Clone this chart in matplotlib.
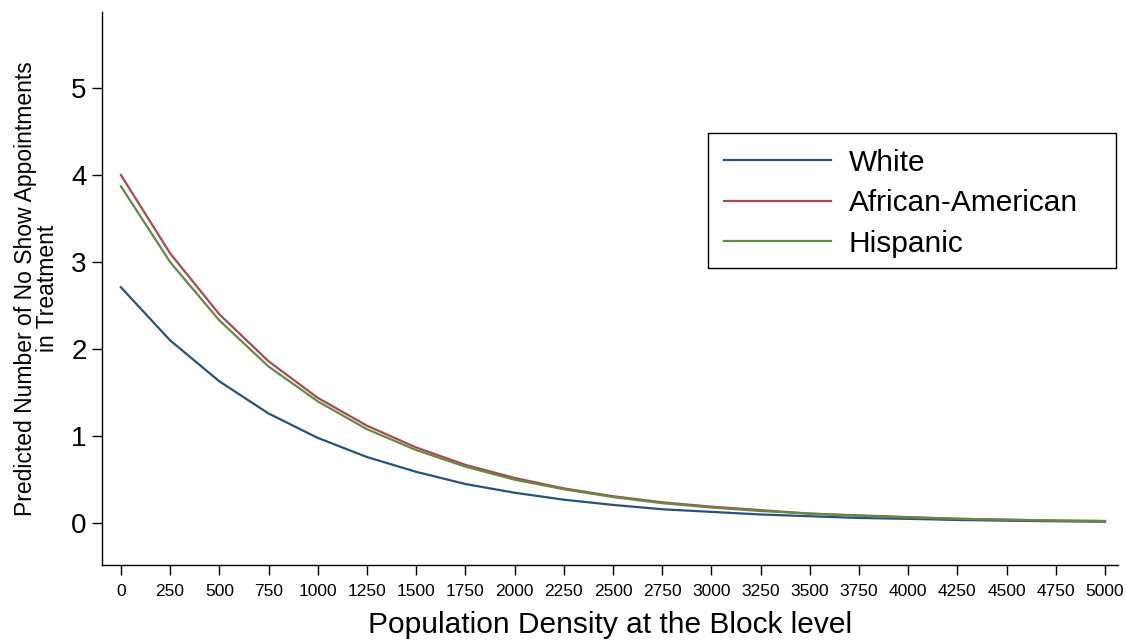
import matplotlib
matplotlib.use("Agg")
import matplotlib.pyplot as plt
from matplotlib.patches import Rectangle

plt.rcParams["font.family"] = ["Liberation Sans", "DejaVu Sans"]

# predicted no-show counts at each density step
density = [0, 250, 500, 750, 1000, 1250, 1500, 1750, 2000, 2250, 2500,
           2750, 3000, 3250, 3500, 3750, 4000, 4250, 4500, 4750, 5000]
white = [2.71, 2.10, 1.63, 1.26, 0.98, 0.76, 0.59, 0.45, 0.35, 0.27, 0.21,
         0.16, 0.13, 0.10, 0.08, 0.06, 0.05, 0.037, 0.029, 0.022, 0.017]
african_american = [4.00, 3.10, 2.40, 1.86, 1.44, 1.12, 0.87, 0.67, 0.52, 0.40, 0.31,
                    0.24, 0.19, 0.15, 0.11, 0.09, 0.07, 0.05, 0.04, 0.03, 0.025]
hispanic = [3.87, 3.00, 2.33, 1.80, 1.40, 1.08, 0.84, 0.65, 0.50, 0.39, 0.30,
            0.23, 0.18, 0.14, 0.11, 0.085, 0.066, 0.051, 0.04, 0.03, 0.024]
y_ticks = [0, 1, 2, 3, 4, 5]

fig = plt.figure(figsize=(11.27, 6.41), dpi=100)
ax = fig.add_axes([0.0905, 0.1186, 0.9015, 0.8625])

ax.plot(density, white, color="#27527f", lw=1.6, label="White")
ax.plot(density, african_american, color="#a84a52", lw=1.6, label="African-American")
ax.plot(density, hispanic, color="#648a42", lw=1.6, label="Hispanic")

ax.set_xlim(-96, 5066)
ax.set_ylim(-0.48, 5.87)
ax.set_xticks(density)
ax.set_xticklabels([str(d) for d in density], fontsize=12.5)
ax.set_yticks(y_ticks)
ax.set_yticklabels([str(t) for t in y_ticks], fontsize=20)

for side in ["top", "right"]:
    ax.spines[side].set_visible(False)
for side in ["left", "bottom"]:
    ax.spines[side].set_linewidth(1.0)
ax.tick_params(axis="both", direction="out", length=7, width=1.0)
ax.tick_params(axis="x", pad=7)
ax.tick_params(axis="y", pad=4)

ax.set_xlabel("Population Density at the Block level", fontsize=21.5, labelpad=8)
ax.set_ylabel("Predicted Number of No Show Appointments\nin Treatment", fontsize=16.5,
              labelpad=9, linespacing=0.95)

# legend entries without frame; a wider box is drawn behind them
leg_x, leg_top = 0.5965, 0.781
leg = ax.legend(loc="upper left", bbox_to_anchor=(leg_x + 0.002, leg_top - 0.004),
                borderaxespad=0, fontsize=21.5, frameon=False,
                handlelength=3.6, handletextpad=0.6, borderpad=0.45,
                labelspacing=0.42)
ax.add_patch(Rectangle((leg_x, leg_top - 0.244), 0.4016, 0.244,
                       transform=ax.transAxes, fill=False, edgecolor="black",
                       lw=1.0, zorder=5, clip_on=False))

fig.savefig("out.png", dpi=100)
